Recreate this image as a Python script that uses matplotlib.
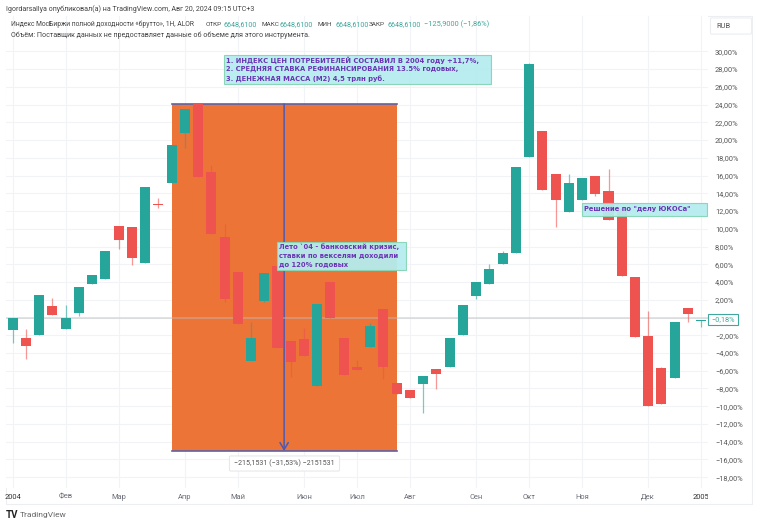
import matplotlib
matplotlib.use("Agg")
import matplotlib.pyplot as plt
from matplotlib.patches import Rectangle, FancyBboxPatch

plt.rcParams['font.family'] = ['Roboto', 'DejaVu Sans']

W, H = 758, 525

# weekly candles, percent from the base line
opens = [-1.4, -2.35, -2.0, 1.33, -1.33, 0.55, 3.78, 4.38, 10.36, 10.2, 6.11, 12.85, 15.17, 20.8,
         24.08, 16.45, 9.08, 5.09, -4.87, 1.9, 5.8, -2.6, -2.42, -7.76, 4.04, -2.27, -5.62, -3.33,
         0.92, -7.42, -8.14, -7.54, -5.85, -5.58, -2.0, 2.39, 3.78, 6.03, 7.31, 18.06, 21.0, 16.18,
         11.94, 13.2, 16.0, 14.23, 12.2, 4.57, -2.05, -5.66, -6.86, 1.11, -0.36]
closes = [0.0, -3.2, 2.5, 0.3, -0.1, 3.48, 4.83, 7.5, 8.74, 6.71, 14.76, 12.72, 19.45, 23.48,
          15.85, 9.45, 2.12, -0.73, -2.27, 5.06, -3.44, -5.06, -4.34, 1.48, -0.06, -6.48, -5.88, -1.0,
          -5.58, -8.59, -9.04, -6.6, -6.33, -2.35, 1.45, 4.04, 5.5, 7.31, 16.94, 28.63, 14.42, 13.29,
          15.13, 15.7, 13.93, 10.96, 4.72, -2.24, -9.98, -9.72, -0.51, 0.39, -0.24]
highs = [0.0, -1.33, 2.5, 2.24, 1.45, 3.48, 4.83, 7.5, 10.36, 10.2, 14.76, 13.44, 19.45, 23.48,
         24.08, 17.2, 10.55, 5.09, -0.47, 5.06, 5.8, -2.6, -1.22, 1.48, 4.04, -2.27, -4.8, -0.6,
         0.92, -7.42, -8.14, -6.6, -5.85, -2.35, 1.45, 4.04, 6.03, 7.45, 16.94, 28.7, 21.0, 16.18,
         16.15, 15.7, 16.0, 16.75, 12.2, 4.57, 0.7, -5.55, -0.51, 1.11, -0.24]
lows = [-2.9, -4.7, -2.0, 0.3, -1.33, 0.17, 3.78, 4.38, 7.69, 5.96, 6.11, 12.3, 15.17, 19.15,
        15.85, 9.45, 1.8, -0.73, -4.87, 1.8, -3.44, -6.67, -4.34, -7.76, -0.06, -6.48, -5.88, -3.33,
        -6.97, -8.59, -9.04, -10.8, -8.1, -5.58, -2.0, 2.05, 3.78, 6.03, 7.31, 18.06, 14.42, 10.17,
        11.94, 13.2, 13.7, 10.96, 4.72, -2.24, -9.98, -9.72, -6.86, -0.51, -1.03]

month_pos = [0, 4, 8, 13, 17, 22, 26, 30, 35, 39, 43, 48, 52]
month_labels = ['2004', 'Фев', 'Мар', 'Апр', 'Май', 'Июн', 'Июл', 'Авг', 'Сен', 'Окт', 'Ноя', 'Дек', '2005']
y_ticks = list(range(30, -20, -2))

zone_left, zone_right = 12.03, 29.03
zone_top, zone_bottom = 24.07, -15.05
zone_mid = 20.5
last_pct = -0.18

GREEN = '#26a69a'
RED = '#ef5350'
GRID = '#f2f3f7'
PURPLE = '#6a35b5'
TEAL = '#3fa79c'
GREY = '#6a6d78'


def fx(px):
    return px / W


def fy(px):
    return 1 - px / H


fig = plt.figure(figsize=(W / 100, H / 100), dpi=100)
ax = fig.add_axes([fx(6), fy(488), (708 - 6) / W, (488 - 16) / H])
ax.set_xlim((6 - 12.7) / 13.24, (708 - 12.7) / 13.24)
ax.set_ylim((317.5 - 488) / 8.87, (317.5 - 16) / 8.87)

for s in ax.spines.values():
    s.set_visible(False)

ax.set_axisbelow(True)
ax.grid(True, color=GRID, lw=0.8)
ax.set_xticks(month_pos)
ax.set_xticklabels(month_labels, fontsize=5.4, color=GREY)
ax.set_yticks(y_ticks)
ax.set_yticklabels([f"{t:.2f}%".replace('.', ',').replace('-', '\u2212') for t in y_ticks], fontsize=5.3, color='#555555')
ax.yaxis.tick_right()
ax.tick_params(length=0)
ax.tick_params(axis='y', pad=5)
ax.tick_params(axis='x', pad=4)

# clip the year at the edge of the pane, like the original
clip = Rectangle((0, 0), fx(708), 1, transform=fig.transFigure)
for lab in ax.get_xticklabels():
    if lab.get_text() in ('2004', '2005'):
        lab.set_color('#333333')
        lab.set_clip_path(clip)

# measuring zone
ax.add_patch(Rectangle((zone_left, zone_bottom), zone_right - zone_left, zone_top - zone_bottom,
                       facecolor='#ec7436', edgecolor='none', zorder=1))
ax.plot([zone_left, zone_right], [zone_top, zone_top], color='#5c62a8', lw=1.2, zorder=2)
ax.plot([zone_left, zone_right], [zone_bottom, zone_bottom], color='#5c62a8', lw=1.2, zorder=2)
ax.annotate('', xy=(zone_mid, zone_bottom), xytext=(zone_mid, zone_top), zorder=2,
            arrowprops=dict(arrowstyle='->,head_width=0.3,head_length=0.5', color='#4b5ab5', lw=1.1,
                            shrinkA=0, shrinkB=0))

ax.axhline(0, color='#bdbdbd', lw=1.1, alpha=0.55, zorder=2)

# candles
for i in range(len(opens)):
    c = GREEN if closes[i] >= opens[i] else RED
    ax.vlines(i, lows[i], highs[i], color=c, lw=0.9, alpha=0.6, zorder=3)
    ax.bar(i, abs(closes[i] - opens[i]), bottom=min(opens[i], closes[i]), width=0.76, color=c, zorder=4)


def note(x0, y0, x1, y1, lines, size):
    fig.add_artist(Rectangle((fx(x0), fy(y1)), (x1 - x0) / W, (y1 - y0) / H, transform=fig.transFigure,
                             facecolor='#b5ecef', edgecolor='#86d5b4', lw=0.8, alpha=0.95, zorder=6))
    step = (y1 - y0 - 2) / len(lines)
    for k, line in enumerate(lines):
        fig.text(fx(x0 + 2), fy(y0 + 1 + step * (k + 0.5)), line, color=PURPLE, fontsize=size, fontweight='bold',
                 family=['DejaVu Sans'], va='center', ha='left', zorder=7)


note(224, 55, 491, 83.5, ['1. ИНДЕКС ЦЕН ПОТРЕБИТЕЛЕЙ СОСТАВИЛ В 2004 году +11,7%,',
                          '2. СРЕДНЯЯ СТАВКА РЕФИНАНСИРОВАНИЯ 13.5% годовых,',
                          '3. ДЕНЕЖНАЯ МАССА (М2) 4,5 трлн руб.'], 4.9)
note(277, 241.5, 406, 269.5, ['Лето `04 - банковский кризис,', 'ставки по векселям доходили', 'до 120% годовых'], 4.9)
note(582, 203.5, 707, 215.5, ['Решение по "делу ЮКОСа"'], 4.9)

# measure label under the zone
fig.add_artist(FancyBboxPatch((fx(231), fy(470)), 107 / W, 13 / H, transform=fig.transFigure,
                              boxstyle='round,pad=0.002', facecolor='white', edgecolor='#e8e8e8', lw=0.8, zorder=6))
fig.text(fx(284.5), fy(463.5), '\u2212215,1531 (\u221231,53%) \u22122151531', fontsize=5.1, color='#555555',
         ha='center', va='center', zorder=7)

# last price tag on the axis
fig.add_artist(Rectangle((fx(708), fy(324.5)), 30 / W, 10.5 / H, transform=fig.transFigure,
                         facecolor='white', edgecolor=TEAL, lw=0.8, zorder=6))
fig.text(fx(723), fy(319.5), f"{last_pct:.2f}%".replace('.', ',').replace('-', '\u2212'), fontsize=5.3, color=TEAL,
         ha='center', va='center', zorder=7)

# outer frame and currency button
fig.add_artist(Rectangle((fx(6), fy(504)), 746 / W, 488 / H, transform=fig.transFigure,
                         facecolor='none', edgecolor='#eceef2', lw=0.8, zorder=0))
fig.add_artist(FancyBboxPatch((fx(712), fy(33)), 38 / W, 14 / H, transform=fig.transFigure,
                              boxstyle='round,pad=0.002', facecolor='white', edgecolor='#eceef2', lw=0.8, zorder=6))
fig.text(fx(716), fy(26.5), 'RUB', fontsize=5.4, color='#555555', va='center', ha='left', zorder=7)

# header and legend
fig.text(fx(6), fy(9), 'Igordarsallya опубликовал(а) на TradingView.com, Авг 20, 2024 09:15 UTC+3',
         fontsize=5.1, color='#444444', va='center')
fig.text(fx(11), fy(24.5), 'Индекс МосБиржи полной доходности «брутто», 1Н, ALOR', fontsize=4.9, color='#444444',
         va='center')
legend_parts = [(206, 'ОТКР', 224), (261, 'МАКС', 279), (318, 'МИН', 335), (369, 'ЗАКР', 387)]
for x_name, name, x_val in legend_parts:
    fig.text(fx(x_name), fy(24.5), name, fontsize=4.6, color='#444444', va='center')
    fig.text(fx(x_val), fy(24.5), '6648,6100', fontsize=5.1, color=TEAL, va='center')
fig.text(fx(424), fy(24.5), '\u2212125,9000 (\u22121,86%)', fontsize=5.3, color=TEAL, va='center')
fig.text(fx(11), fy(35), 'Объём: Поставщик данных не предоставляет данные об объеме для этого инструмента.',
         fontsize=5.1, color='#444444', va='center')

# footer
fig.text(fx(6), fy(514.5), 'TV', fontsize=7, fontweight='bold', color='#222222', va='center')
fig.text(fx(20), fy(514.5), 'TradingView', fontsize=6, color='#666666', va='center')

fig.savefig('out.png', dpi=100, facecolor='white')
